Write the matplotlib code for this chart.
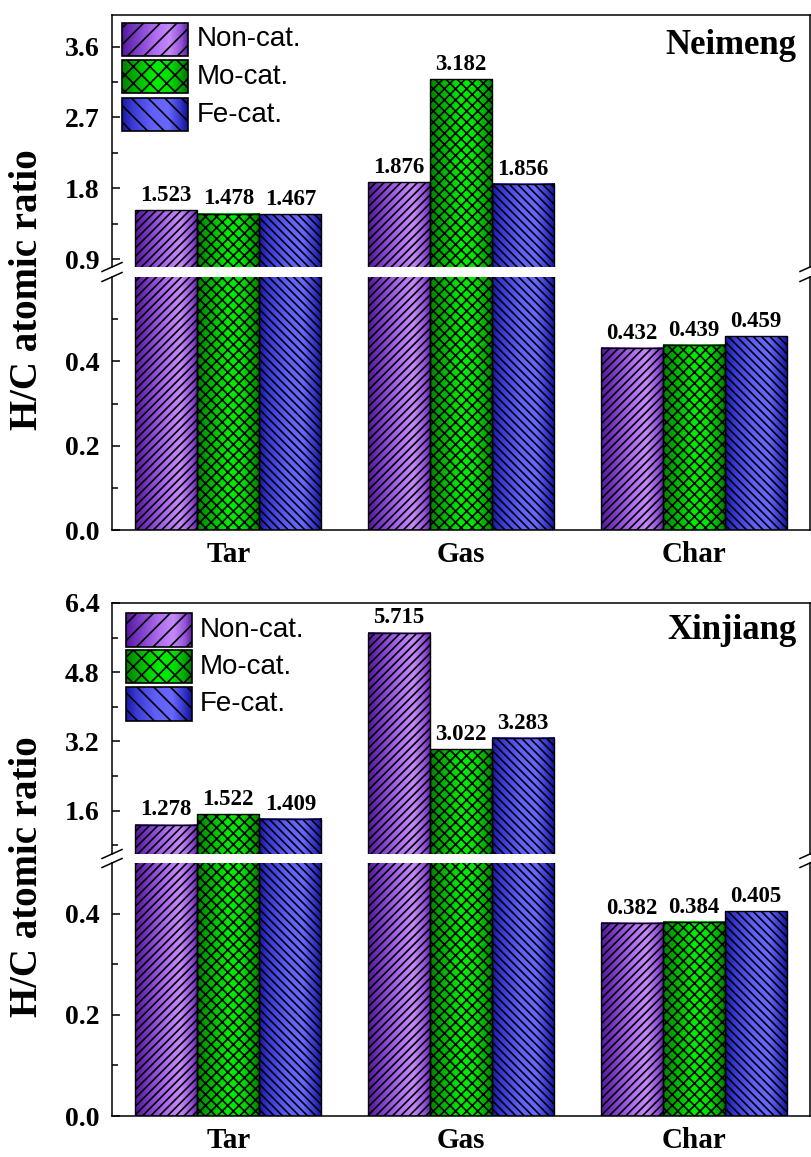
import numpy as np
import matplotlib
matplotlib.use("Agg")
import matplotlib.pyplot as plt
from matplotlib.colors import LinearSegmentedColormap
from matplotlib.lines import Line2D
from matplotlib.patches import Rectangle

# ---- data ----
categories = ["Tar", "Gas", "Char"]
series_names = ["Non-cat.", "Mo-cat.", "Fe-cat."]

neimeng_non = [1.523, 1.876, 0.432]
neimeng_mo = [1.478, 3.182, 0.439]
neimeng_fe = [1.467, 1.856, 0.459]

xinjiang_non = [1.278, 5.715, 0.382]
xinjiang_mo = [1.522, 3.022, 0.384]
xinjiang_fe = [1.409, 3.283, 0.405]

# ---- style ----
SERIF = "Liberation Serif"
SANS = "Liberation Sans"
plt.rcParams["hatch.linewidth"] = 1.2
plt.rcParams["font.family"] = SERIF

W, H = 812, 1157
fig = plt.figure(figsize=(W / 100, H / 100), dpi=100)


def box(left, top, right, bottom):
    return [left / W, 1 - bottom / H, (right - left) / W, (bottom - top) / H]


cmaps = [
    LinearSegmentedColormap.from_list("pur", [
        (0.0, "#52169a"), (0.15, "#7032bc"), (0.5, "#ae6cf0"),
        (0.72, "#c48af8"), (0.9, "#9252d6"), (1.0, "#5a1ca4")]),
    LinearSegmentedColormap.from_list("grn", [
        (0.0, "#008000"), (0.2, "#00b000"), (0.5, "#00ee00"),
        (0.72, "#00e200"), (0.9, "#00a400"), (1.0, "#007000")]),
    LinearSegmentedColormap.from_list("blu", [
        (0.0, "#1818a2"), (0.15, "#3838d4"), (0.45, "#6060f8"),
        (0.7, "#6868ff"), (0.88, "#3636ca"), (1.0, "#101098")]),
]
bar_hatches = ["////", "xxx", "\\\\\\\\"]
legend_hatches = ["//", "xx", "\\\\"]
grad = np.linspace(0, 1, 256).reshape(1, -1)

x = np.arange(1, len(categories) + 1)
width = 0.8 / 3


def style_axis(ax, major, minor, lo, hi):
    ax.set_xlim(0.5, 3.5)
    ax.set_ylim(lo, hi)
    ax.set_yticks(major)
    ax.set_yticks(minor, minor=True)
    ax.set_yticklabels([f"{t:.1f}" for t in major])
    ax.tick_params(axis="y", which="major", direction="in", length=6,
                   width=1.1, pad=9, labelsize=20)
    ax.tick_params(axis="y", which="minor", direction="in", length=4,
                   width=1.1)
    ax.tick_params(axis="y", right=False)
    for lab in ax.get_yticklabels():
        lab.set_fontweight("bold")
    for sp in ax.spines.values():
        sp.set_linewidth(1.1)


def draw_bars(ax, groups, lo, hi):
    for i, vals in enumerate(groups):
        bars = ax.bar(x + (i - 1) * width, vals, width, facecolor="none",
                      edgecolor="black", hatch=bar_hatches[i],
                      linewidth=1.0, zorder=3)
        for b, v in zip(bars, vals):
            x0 = b.get_x()
            ax.imshow(grad, cmap=cmaps[i], aspect="auto",
                      extent=(x0, x0 + b.get_width(), 0, v),
                      interpolation="bilinear", zorder=2)
            if lo <= v < hi:
                ax.annotate(f"{v:.3f}", (x0 + b.get_width() / 2, v),
                            xytext=(0, 3), textcoords="offset points",
                            ha="center", va="bottom", fontsize=16.5,
                            fontweight="bold", family=SERIF)


def break_marks(y_hi_bottom, y_lo_top):
    for xs in (112, 810):
        for yy in (y_hi_bottom, y_lo_top):
            Y = H - yy
            fig.add_artist(Line2D([(xs - 10) / W, (xs + 10) / W],
                                  [(Y - 4.5) / H, (Y + 4.5) / H],
                                  transform=fig.transFigure,
                                  color="black", lw=1.1))


def legend(x_left, x_right, rows, x_text):
    for i, (top, bottom) in enumerate(rows):
        lax = fig.add_axes(box(x_left, top, x_right, bottom))
        lax.imshow(grad, cmap=cmaps[i], aspect="auto", extent=(0, 1, 0, 1),
                   interpolation="bilinear")
        lax.add_patch(Rectangle((0, 0), 1, 1, facecolor="none",
                                edgecolor="black", hatch=legend_hatches[i],
                                lw=1.2, transform=lax.transAxes,
                                clip_on=False))
        lax.set_xlim(0, 1)
        lax.set_ylim(0, 1)
        lax.axis("off")
        fig.text(x_text / W, 1 - ((top + bottom) / 2) / H, series_names[i],
                 fontsize=20, family=SANS, va="center", ha="left")


def panel(groups, px, hi_range, hi_major, hi_minor, lo_range, lo_major,
          lo_minor, title, title_y, legend_x, legend_rows, legend_text_x,
          label_center):
    top, gap_a, gap_b, bottom = px
    ax_hi = fig.add_axes(box(112, top, 810, gap_a))
    ax_lo = fig.add_axes(box(112, gap_b, 810, bottom))

    draw_bars(ax_hi, groups, *hi_range)
    draw_bars(ax_lo, groups, *lo_range)
    style_axis(ax_hi, hi_major, hi_minor, *hi_range)
    style_axis(ax_lo, lo_major, lo_minor, *lo_range)

    ax_hi.spines["bottom"].set_visible(False)
    ax_hi.set_xticks([])
    ax_lo.spines["top"].set_visible(False)
    ax_lo.set_xticks(x)
    ax_lo.set_xticklabels(categories, fontsize=21, fontweight="bold")
    ax_lo.tick_params(axis="x", length=0, pad=8)

    ax_hi.text(0.981, title_y, title, transform=ax_hi.transAxes,
               ha="right", va="top", fontsize=25, fontweight="bold")

    break_marks(gap_a, gap_b)
    legend(legend_x[0], legend_x[1], legend_rows, legend_text_x)
    fig.text(28 / W, 1 - label_center / H, "H/C atomic ratio", rotation=90,
             ha="center", va="center", fontsize=28, fontweight="bold")


panel([neimeng_non, neimeng_mo, neimeng_fe], (15, 267, 277, 530),
      (0.8, 4.0), [0.9, 1.8, 2.7, 3.6], [1.35, 2.25, 3.15],
      (0.0, 0.6), [0.0, 0.2, 0.4], [0.1, 0.3, 0.5],
      "Neimeng", 0.944, (122, 188), [(23, 56), (60, 93), (98, 131)], 197,
      290)

panel([xinjiang_non, xinjiang_mo, xinjiang_fe], (603, 854, 863, 1116),
      (0.6, 6.4), [1.6, 3.2, 4.8, 6.4], [0.8, 2.4, 4.0, 5.6],
      (0.0, 0.5), [0.0, 0.2, 0.4], [0.1, 0.3],
      "Xinjiang", 0.956, (126, 192), [(613, 647), (650, 683), (687, 721)],
      200, 877)

fig.savefig("out.png", dpi=100)
